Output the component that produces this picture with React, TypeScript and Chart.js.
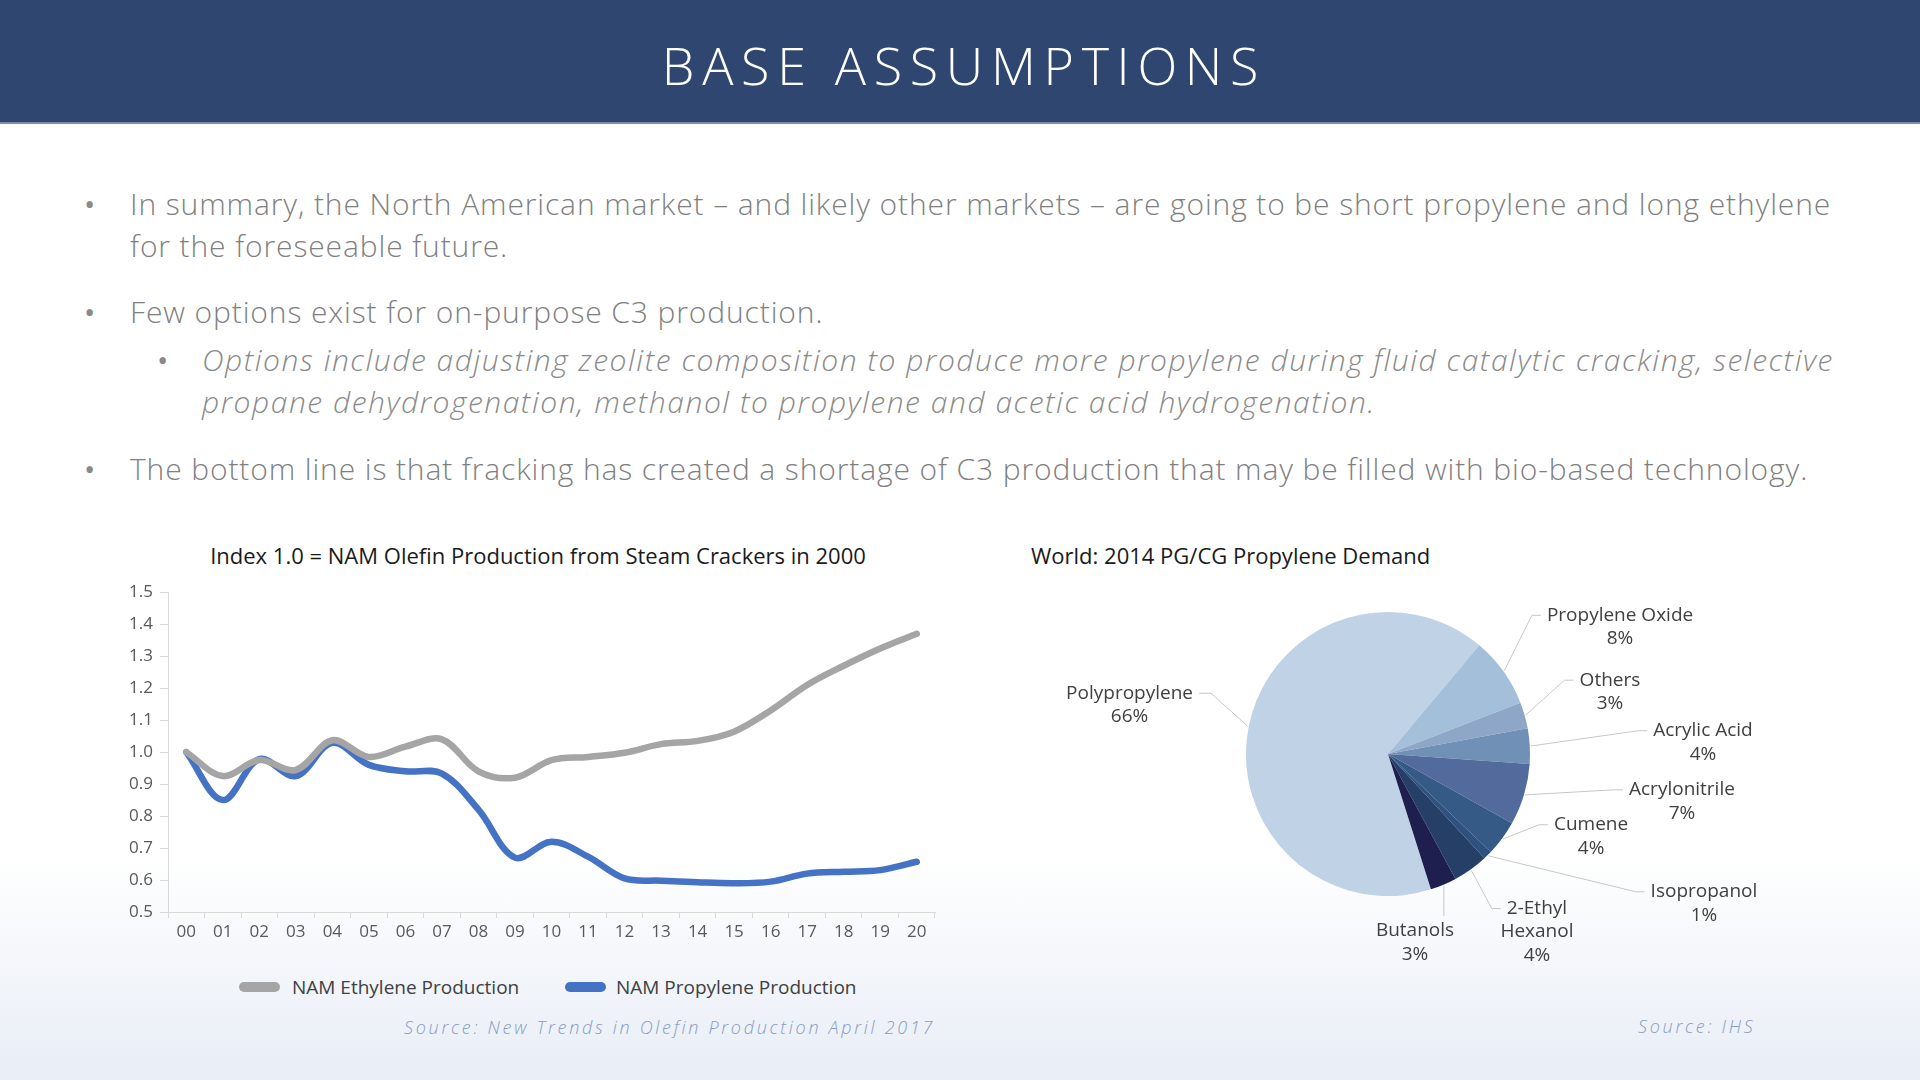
import React, { useEffect, useRef } from "react";
import { Chart, registerables } from "chart.js";

Chart.register(...registerables);

// ---------- Line chart data ----------
const years = ["00", "01", "02", "03", "04", "05", "06", "07", "08", "09", "10", "11", "12", "13", "14", "15", "16", "17", "18", "19", "20"];
const ethylene = [1.0, 0.925, 0.975, 0.944, 1.037, 0.985, 1.017, 1.04, 0.94, 0.92, 0.975, 0.985, 0.998, 1.025, 1.035, 1.064, 1.13, 1.21, 1.27, 1.324, 1.37];
const propylene = [1.0, 0.85, 0.978, 0.925, 1.029, 0.96, 0.94, 0.933, 0.82, 0.67, 0.72, 0.673, 0.605, 0.598, 0.593, 0.59, 0.595, 0.62, 0.626, 0.631, 0.657];
const yMin = 0.5;
const yMax = 1.5;
const yStep = 0.1;
const seriesNames = ["NAM Ethylene Production", "NAM Propylene Production"];
const seriesColors = ["#A5A5A5", "#4472C4"];

// ---------- Pie chart data ----------
const pieCategories = ["Polypropylene", "Propylene Oxide", "Others", "Acrylic Acid", "Acrylonitrile", "Cumene", "Isopropanol", "2-Ethyl Hexanol", "Butanols"];
const pieValues = [66, 8, 3, 4, 7, 4, 1, 4, 3];
const pieColors = ["#C0D2E5", "#A4BFD9", "#8EA7C8", "#7190B6", "#526A9C", "#355A86", "#2E5180", "#263F66", "#1F1F4F"];

// label layout (label block centre relative to pie centre, in radius units; leader mode)
const pieLabelLayout = [
  { dx: -1.82, dy: -0.345, mode: "right" },
  { dx: 1.634, dy: -0.894, mode: "left" },
  { dx: 1.563, dy: -0.437, mode: "left" },
  { dx: 2.218, dy: -0.081, mode: "left" },
  { dx: 2.07, dy: 0.335, mode: "left" },
  { dx: 1.43, dy: 0.581, mode: "left" },
  { dx: 2.225, dy: 1.053, mode: "left" },
  { dx: 1.049, dy: 1.254, mode: "left" },
  { dx: 0.19, dy: 1.327, mode: "below" },
];
const wrappedLabels = ["2-Ethyl Hexanol"];

const FONT = '"Open Sans", "DejaVu Sans", sans-serif';

const pieLabelPlugin = {
  id: "pieLabels",
  afterDatasetsDraw(chart: any) {
    const ctx = chart.ctx as CanvasRenderingContext2D;
    const meta = chart.getDatasetMeta(0);
    const lh = 23.5;
    ctx.save();
    ctx.font = `19px ${FONT}`;
    ctx.textAlign = "center";
    ctx.textBaseline = "middle";
    meta.data.forEach((arc: any, i: number) => {
      const p = arc.getProps(["x", "y", "startAngle", "endAngle", "outerRadius"], true);
      const mid = (p.startAngle + p.endAngle) / 2;
      const r = p.outerRadius;
      const ex = p.x + Math.cos(mid) * (r + 1);
      const ey = p.y + Math.sin(mid) * (r + 1);
      const name = pieCategories[i];
      const nameLines = wrappedLabels.includes(name) ? name.split(" ") : [name];
      const lines = [...nameLines, `${pieValues[i]}%`];
      const lay = pieLabelLayout[i];
      const cx = p.x + lay.dx * r;
      const cy = p.y + lay.dy * r;
      const top = cy - (lh * lines.length) / 2;
      const firstY = top + lh / 2;
      const w1 = ctx.measureText(lines[0]).width;

      ctx.strokeStyle = "#C8C8C8";
      ctx.lineWidth = 1;
      ctx.beginPath();
      ctx.moveTo(ex, ey);
      if (lay.mode === "left") {
        const endX = cx - w1 / 2 - 6;
        ctx.lineTo(endX - 9, firstY);
        ctx.lineTo(endX, firstY);
      } else if (lay.mode === "right") {
        const endX = cx + w1 / 2 + 6;
        ctx.lineTo(endX + 12, firstY);
        ctx.lineTo(endX, firstY);
      } else {
        ctx.lineTo(ex, top - 3);
      }
      ctx.stroke();

      ctx.fillStyle = "#404040";
      lines.forEach((t, k) => ctx.fillText(t, cx, top + lh * (k + 0.5)));
    });
    ctx.restore();
  },
};

function LineChart() {
  const ref = useRef<HTMLCanvasElement>(null);
  useEffect(() => {
    if (!ref.current) return;
    const tickFont = { family: FONT, size: 17 };
    const chart = new Chart(ref.current, {
      type: "line",
      data: {
        labels: years,
        datasets: [
          { label: seriesNames[0], data: ethylene, borderColor: seriesColors[0], backgroundColor: seriesColors[0], borderWidth: 6.5, pointRadius: 0, tension: 0.35, borderCapStyle: "round", borderJoinStyle: "round" },
          { label: seriesNames[1], data: propylene, borderColor: seriesColors[1], backgroundColor: seriesColors[1], borderWidth: 6.5, pointRadius: 0, tension: 0.35, borderCapStyle: "round", borderJoinStyle: "round" },
        ],
      },
      options: {
        responsive: false,
        animation: false,
        layout: { padding: { top: 7, right: 25, left: 0, bottom: 0 } },
        plugins: { legend: { display: false }, tooltip: { enabled: false }, title: { display: false } },
        scales: {
          x: {
            offset: true,
            grid: { offset: true, drawOnChartArea: false, color: "#D9D9D9", tickLength: 6, lineWidth: 1 },
            border: { color: "#D9D9D9" },
            ticks: { color: "#595959", font: tickFont, padding: 4, maxRotation: 0, autoSkip: false },
            afterFit: (a: any) => { a.height = 40; },
          },
          y: {
            min: yMin,
            max: yMax,
            grid: { drawOnChartArea: false, color: "#D9D9D9", tickLength: 8, lineWidth: 1 },
            border: { color: "#D9D9D9" },
            ticks: { stepSize: yStep, color: "#595959", font: tickFont, padding: 7, callback: (v: any) => Number(v).toFixed(1) },
            afterFit: (a: any) => { a.width = 68; },
          },
        },
      } as any,
    });
    return () => chart.destroy();
  }, []);
  return <canvas ref={ref} width={860} height={377} style={{ position: "absolute", left: 100, top: 575, width: 860, height: 377 }} />;
}

function PieChart() {
  const ref = useRef<HTMLCanvasElement>(null);
  useEffect(() => {
    if (!ref.current) return;
    const chart = new Chart(ref.current, {
      type: "pie",
      data: {
        labels: pieCategories,
        datasets: [{ data: pieValues, backgroundColor: pieColors, borderWidth: 0 }],
      },
      options: {
        responsive: false,
        animation: false,
        rotation: 162.4,
        layout: { padding: { left: 206, right: 270, top: 22, bottom: 94 } },
        plugins: { legend: { display: false }, tooltip: { enabled: false } },
      } as any,
      plugins: [pieLabelPlugin],
    });
    return () => chart.destroy();
  }, []);
  return <canvas ref={ref} width={760} height={400} style={{ position: "absolute", left: 1040, top: 590, width: 760, height: 400 }} />;
}

const bulletText: React.CSSProperties = {
  position: "absolute",
  fontFamily: FONT,
  fontWeight: 300,
  fontSize: 30,
  lineHeight: "42px",
  color: "#7F7F7F",
  whiteSpace: "nowrap",
  margin: 0,
  letterSpacing: 0.9,
};

function Bullet({ x, y, children, italic }: { x: number; y: number; children: React.ReactNode; italic?: boolean }) {
  return (
    <div style={{ ...bulletText, left: x, top: y, fontStyle: italic ? "italic" : "normal", color: italic ? "#8A8A8A" : "#7F7F7F", letterSpacing: italic ? 1.53 : 0.88 }}>
      {children}
    </div>
  );
}

function Dot({ x, y }: { x: number; y: number }) {
  return (
    <div style={{ position: "absolute", left: x, top: y, fontFamily: FONT, fontSize: 30, lineHeight: "42px", fontWeight: 400, color: "#8A8A8A" }}>•</div>
  );
}

export default function App() {
  return (
    <div
      style={{
        position: "absolute",
        left: 0,
        top: 0,
        width: 1920,
        height: 1080,
        overflow: "hidden",
        background: "linear-gradient(to bottom, #ffffff 0%, #ffffff 79%, #E8EDF6 100%)",
        fontFamily: FONT,
      }}
    >
      <div style={{ position: "absolute", left: 0, top: 0, width: 1920, height: 122, background: "#2E4670", borderBottom: "2px solid #7D8DA8" }} />
      <div style={{ position: "absolute", left: 4, top: 0, width: 1920, height: 124, lineHeight: "130px", textAlign: "center", color: "#FFFFFF", fontSize: 52, letterSpacing: 7.7, fontWeight: 300 }}>
        BASE ASSUMPTIONS
      </div>

      <Dot x={84} y={183} />
      <Bullet x={130} y={183}>
        In summary, the North American market – and likely other markets – are going to be short propylene and long ethylene
        <br />
        for the foreseeable future.
      </Bullet>
      <Dot x={84} y={291} />
      <Bullet x={130} y={291}>Few options exist for on-purpose C3 production.</Bullet>
      <Dot x={157} y={339} />
      <Bullet x={202} y={339} italic>
        Options include adjusting zeolite composition to produce more propylene during fluid catalytic cracking, selective
        <br />
        propane dehydrogenation, methanol to propylene and acetic acid hydrogenation.
      </Bullet>
      <Dot x={84} y={448} />
      <Bullet x={130} y={448}>The bottom line is that fracking has created a shortage of C3 production that may be filled with bio-based technology.</Bullet>

      <div style={{ position: "absolute", left: 138, width: 800, top: 540, textAlign: "center", fontSize: 22, lineHeight: "30px", color: "#1A1A1A", whiteSpace: "nowrap" }}>
        Index 1.0 = NAM Olefin Production from Steam Crackers in 2000
      </div>
      <div style={{ position: "absolute", left: 1031, top: 540, fontSize: 22, lineHeight: "30px", color: "#1A1A1A", whiteSpace: "nowrap" }}>
        World: 2014 PG/CG Propylene Demand
      </div>

      <LineChart />
      <PieChart />

      {/* legend */}
      <div style={{ position: "absolute", left: 239, top: 982, width: 41, height: 10, borderRadius: 5, background: seriesColors[0] }} />
      <div style={{ position: "absolute", left: 292, top: 973, fontSize: 19, lineHeight: "28px", color: "#404040", whiteSpace: "nowrap" }}>{seriesNames[0]}</div>
      <div style={{ position: "absolute", left: 565, top: 982, width: 41, height: 10, borderRadius: 5, background: seriesColors[1] }} />
      <div style={{ position: "absolute", left: 616, top: 973, fontSize: 19, lineHeight: "28px", color: "#404040", whiteSpace: "nowrap" }}>{seriesNames[1]}</div>

      <div style={{ position: "absolute", left: 404, top: 1014, fontSize: 18, lineHeight: "26px", fontStyle: "italic", fontWeight: 300, letterSpacing: 2.7, color: "#8A9CC0", whiteSpace: "nowrap" }}>
        Source: New Trends in Olefin Production April 2017
      </div>
      <div style={{ position: "absolute", left: 1638, top: 1013, fontSize: 18, lineHeight: "26px", fontStyle: "italic", fontWeight: 300, letterSpacing: 2.7, color: "#8A9CC0", whiteSpace: "nowrap" }}>
        Source: IHS
      </div>
    </div>
  );
}
